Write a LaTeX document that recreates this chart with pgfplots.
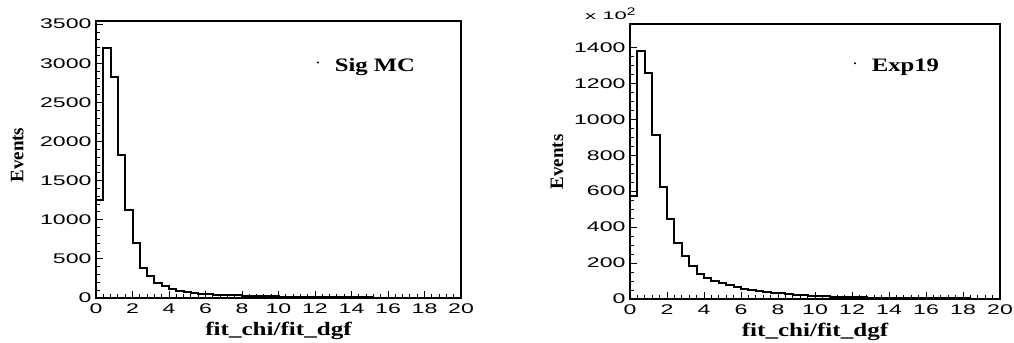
\documentclass[border=0pt]{standalone}
\usepackage{graphicx}
\usepackage{pgfplots}
\pgfplotsset{compat=1.18}
\usepackage{fontspec}
\setmainfont{Liberation Serif}
\newfontfamily\ticksf{Liberation Sans}
\newcommand{\tickfont}{\ticksf\fontsize{14bp}{16bp}\selectfont}
\newcommand{\labfont}{\rmfamily\bfseries\fontsize{19bp}{21bp}\selectfont}
\pgfplotsset{
  pawstyle/.style={
    scale only axis,
    clip mode=individual,
    xmin=0, xmax=20,
    ymin=0,
    axis line style={line width=1.2bp},
    tick align=inside,
    xtick pos=bottom, ytick pos=left,
    xtick={0,2,...,20},
    minor x tick num=4,
    major tick length=7bp, minor tick length=3.5bp,
    tick style={line width=0.9bp, black},
    /pgf/number format/assume math mode=true,
    /pgf/number format/1000 sep={},
    /pgf/number format/fixed,
    /pgf/number format/precision=0,
    xticklabel={\tickfont\scalebox{1.65}[1]{\pgfmathprintnumber{\tick}}},
    yticklabel={\tickfont\scalebox{1.65}[1]{\pgfmathprintnumber{\tick}}},
    xticklabel style={anchor=north, yshift=-2bp},
    yticklabel style={anchor=east, xshift=-1bp},
    xlabel={\labfont\scalebox{1.32}[1]{fit\_chi/fit\_dgf}},
    xlabel style={anchor=base, at={(axis description cs:0.5,-0.137)}},
    ylabel={\labfont Events},
    ylabel style={anchor=center},
    legend style={draw=none, fill=none, anchor=west,
      legend cell align=left, inner sep=0pt},
    legend image code/.code={\path[draw=none] (0,0) -- (0.62cm,0);\fill[black, draw=none] (0.1cm,0.1cm) circle (1.1bp);},
  }
}
\begin{document}
\begin{tikzpicture}
\useasboundingbox (0,0) rectangle (1014bp,343bp);
% Left panel
\begin{axis}[pawstyle,
  at={(96bp,45bp)}, anchor=south west,
  width=365bp, height=277bp,
  ymax=3540,
  ytick={0,500,...,3500},
  minor y tick num=4,
  ylabel style={at={(axis description cs:-0.216,0.516)}},
  legend style={at={(axis description cs:0.6,0.84)}},
]
\addplot[const plot, line width=2bp, black] coordinates {
(0,1250) (0.4,3200) (0.8,2820) (1.2,1830) (1.6,1125) (2.0,700) (2.4,380)
(2.8,285) (3.2,192) (3.6,150) (4.0,110) (4.4,88) (4.8,72) (5.2,62) (5.6,55)
(6.0,48) (6.4,43) (6.8,39) (7.2,35) (7.6,32) (8.0,29) (8.4,26) (8.8,24)
(9.2,22) (9.6,20) (10.0,18) (10.4,16) (10.8,15) (11.2,14) (11.6,13) (12.0,12)
(12.4,11) (12.8,10) (13.2,9) (13.6,8) (14.0,8) (14.4,7) (14.8,7) (15.2,6)
(15.6,6) (16.0,5) (16.4,5) (16.8,5) (17.2,4) (17.6,4) (18.0,4) (18.4,3)
(18.8,3) (19.2,3) (19.6,3) (20,3)
};
\addlegendentry{\labfont\scalebox{1.3}[1]{Sig MC}}
\end{axis}
% Right panel
\begin{axis}[pawstyle,
  at={(630bp,44bp)}, anchor=south west,
  width=370bp, height=275bp,
  ymax=1530,
  ytick={0,200,...,1400},
  minor y tick num=3,
  ylabel style={at={(axis description cs:-0.197,0.498)}},
  legend style={at={(axis description cs:0.6,0.847)}},
]
\addplot[const plot, line width=2bp, black] coordinates {
(0,575) (0.4,1380) (0.8,1255) (1.2,912) (1.6,625) (2.0,443) (2.4,310)
(2.8,240) (3.2,183) (3.6,140) (4.0,117) (4.4,102) (4.8,88) (5.2,77) (5.6,67)
(6.0,58) (6.4,51) (6.8,45) (7.2,40) (7.6,35) (8.0,31) (8.4,27) (8.8,24)
(9.2,21) (9.6,19) (10.0,17) (10.4,15) (10.8,13) (11.2,12) (11.6,11) (12.0,10)
(12.4,9) (12.8,8) (13.2,7) (13.6,7) (14.0,6) (14.4,6) (14.8,5) (15.2,5)
(15.6,4) (16.0,4) (16.4,4) (16.8,3) (17.2,3) (17.6,3) (18.0,3) (18.4,2)
(18.8,2) (19.2,2) (19.6,2) (20,2)
};
\addlegendentry{\labfont\scalebox{1.3}[1]{Exp19}}
\node[anchor=south east, inner sep=0pt]
  at (rel axis cs:0.015,1.015) {\ticksf\fontsize{11bp}{12bp}\selectfont\scalebox{2.0}[1]{x 10}\raisebox{4bp}{\scalebox{1.4}[1]{2}}};
\end{axis}
\end{tikzpicture}
\end{document}
